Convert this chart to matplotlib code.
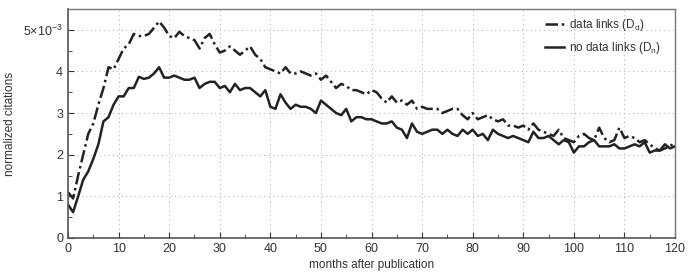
import numpy as np
import matplotlib
matplotlib.use("Agg")
import matplotlib.pyplot as plt
from matplotlib.ticker import MultipleLocator, FuncFormatter

plt.rcParams['font.family'] = ['Liberation Sans', 'DejaVu Sans']
plt.rcParams['mathtext.default'] = 'regular'

months = np.arange(0, 121)

# normalized citations (x 1e-3)
data_links = [
    1.1, 0.95, 1.5, 2.0, 2.5, 2.75, 3.2, 3.6, 4.1, 4.05,
    4.3, 4.55, 4.65, 4.9, 4.85, 4.85, 4.9, 5.05, 5.2, 5.05,
    4.85, 4.8, 4.95, 4.85, 4.8, 4.75, 4.55, 4.8, 4.9, 4.65,
    4.45, 4.5, 4.6, 4.5, 4.4, 4.5, 4.6, 4.4, 4.3, 4.1,
    4.05, 4.0, 3.95, 4.1, 3.95, 3.95, 4.0, 3.95, 3.9, 3.95,
    3.8, 3.9, 3.75, 3.6, 3.7, 3.65, 3.55, 3.55, 3.5, 3.45,
    3.55, 3.5, 3.35, 3.25, 3.4, 3.25, 3.3, 3.2, 3.3, 3.1,
    3.15, 3.1, 3.1, 3.1, 3.0, 3.05, 3.1, 3.1, 2.95, 2.85,
    3.0, 2.85, 2.9, 2.95, 2.85, 2.8, 2.85, 2.7, 2.7, 2.65,
    2.7, 2.6, 2.75, 2.6, 2.55, 2.5, 2.45, 2.6, 2.4, 2.35,
    2.3, 2.45, 2.5, 2.4, 2.35, 2.65, 2.4, 2.3, 2.35, 2.65,
    2.4, 2.45, 2.4, 2.3, 2.35, 2.25, 2.15, 2.1, 2.15, 2.2,
    2.3,
]
no_data_links = [
    0.8, 0.62, 1.0, 1.4, 1.6, 1.9, 2.25, 2.8, 2.9, 3.2,
    3.4, 3.4, 3.6, 3.6, 3.87, 3.82, 3.85, 3.95, 4.1, 3.85,
    3.85, 3.9, 3.85, 3.8, 3.8, 3.85, 3.6, 3.7, 3.75, 3.75,
    3.6, 3.65, 3.5, 3.7, 3.55, 3.6, 3.6, 3.5, 3.4, 3.55,
    3.15, 3.1, 3.45, 3.25, 3.1, 3.2, 3.15, 3.15, 3.1, 3.0,
    3.3, 3.2, 3.1, 3.0, 2.95, 3.1, 2.8, 2.9, 2.9, 2.85,
    2.85, 2.8, 2.75, 2.75, 2.8, 2.65, 2.6, 2.4, 2.75, 2.55,
    2.5, 2.55, 2.6, 2.6, 2.5, 2.6, 2.5, 2.45, 2.6, 2.5,
    2.6, 2.45, 2.5, 2.35, 2.6, 2.5, 2.45, 2.4, 2.45, 2.4,
    2.35, 2.3, 2.55, 2.4, 2.4, 2.45, 2.35, 2.25, 2.35, 2.3,
    2.05, 2.2, 2.2, 2.3, 2.35, 2.2, 2.2, 2.2, 2.25, 2.15,
    2.15, 2.2, 2.25, 2.2, 2.3, 2.05, 2.1, 2.1, 2.25, 2.15,
    2.2,
]

fig = plt.figure(figsize=(6.9, 2.79), dpi=100)
ax = fig.add_axes([0.0986, 0.147, 0.8797, 0.821])

line_col = '#222222'
ax.plot(months, np.array(data_links) * 1e-3, color=line_col, lw=1.8,
        linestyle=(0, (5, 1.5, 1, 1.5)), label='data links (D$_d$)')
ax.plot(months, np.array(no_data_links) * 1e-3, color=line_col, lw=1.8,
        linestyle='-', label='no data links (D$_n$)')

ax.set_xlim(0, 120)
ax.set_ylim(0, 5.5e-3)
ax.xaxis.set_major_locator(MultipleLocator(10))
ax.xaxis.set_minor_locator(MultipleLocator(5))
ax.yaxis.set_major_locator(MultipleLocator(1e-3))
ax.yaxis.set_minor_locator(MultipleLocator(0.5e-3))

def yfmt(v, pos):
    n = int(round(v * 1e3))
    if n == 5:
        return r'5$\times$10$^{-3}$'
    return str(n)

ax.yaxis.set_major_formatter(FuncFormatter(yfmt))

ax.grid(True, which='major', linestyle=(0, (1, 3)), color='#bbbbbb', lw=0.8)
ax.tick_params(which='both', direction='in', labelsize=9, colors='#333333')
ax.tick_params(which='major', length=4)
ax.tick_params(which='minor', length=3)
ax.tick_params(top=False, right=False, which='both')

for side in ['left', 'bottom']:
    ax.spines[side].set_color('#555555')
    ax.spines[side].set_linewidth(1.2)
for side in ['top', 'right']:
    ax.spines[side].set_color('#777777')
    ax.spines[side].set_linewidth(1.0)

ax.set_xlabel('months after publication', fontsize=8.5, color='#333333', labelpad=3)
ax.set_ylabel('normalized citations', fontsize=8.5, color='#333333')
ax.yaxis.set_label_coords(-0.085, 0.5)

leg = ax.legend(loc='upper right', frameon=False, fontsize=8.5, handlelength=1.6,
                handletextpad=0.4, borderaxespad=0.3, labelspacing=0.55,
                bbox_to_anchor=(0.99, 1.0))
for t in leg.get_texts():
    t.set_color('#333333')

fig.savefig('out.png', dpi=100)
